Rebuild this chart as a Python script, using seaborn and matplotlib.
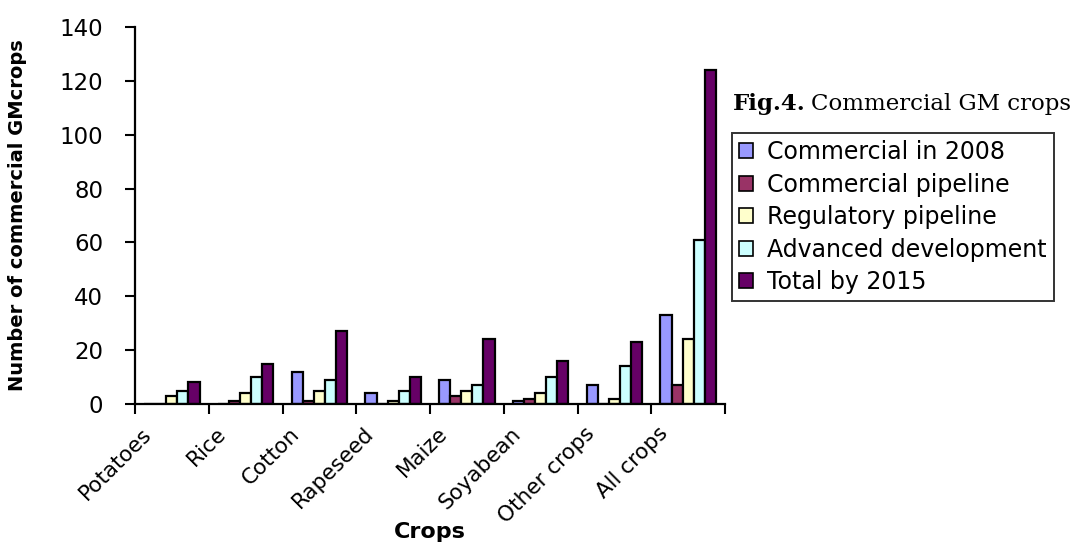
import matplotlib
matplotlib.use("Agg")
import matplotlib.pyplot as plt
import matplotlib.transforms as mtransforms
import numpy as np
import pandas as pd
import seaborn as sns

# Crops and number of commercial GM events per development stage
crops = ["Potatoes", "Rice", "Cotton", "Rapeseed", "Maize", "Soyabean",
         "Other crops", "All crops"]
series_names = ["Commercial in 2008", "Commercial pipeline",
                "Regulatory pipeline", "Advanced development", "Total by 2015"]
commercial_2008 = [0, 0, 12, 4, 9, 1, 7, 33]
commercial_pipeline = [0, 1, 1, 0, 3, 2, 0, 7]
regulatory_pipeline = [3, 4, 5, 1, 5, 4, 2, 24]
advanced_development = [5, 10, 9, 5, 7, 10, 14, 61]
total_2015 = [8, 15, 27, 10, 24, 16, 23, 124]
y_ticks = [0, 20, 40, 60, 80, 100, 120, 140]

colors = ["#9999FF", "#993366", "#FFFFCC", "#CCFFFF", "#660066"]

series_values = [commercial_2008, commercial_pipeline, regulatory_pipeline,
                 advanced_development, total_2015]
df = pd.DataFrame({
    "Crop": np.repeat(crops, len(series_names)).tolist(),
    "Stage": series_names * len(crops),
    "Count": [series_values[s][c] for c in range(len(crops))
              for s in range(len(series_names))],
})

sns.set_style("white")
plt.rcParams["font.family"] = ["DejaVu Sans"]
for key in ["text.color", "axes.labelcolor", "xtick.color", "ytick.color"]:
    plt.rcParams[key] = "black"

fig = plt.figure(figsize=(10.72, 5.45), dpi=100)
ax = fig.add_axes([135 / 1072, 1 - 404 / 545, 590 / 1072, 377 / 545])

sns.barplot(data=df, x="Crop", y="Count", hue="Stage", order=crops,
            hue_order=series_names, palette=colors, width=0.75,
            edgecolor="black", linewidth=1.6, saturation=1, ax=ax,
            legend=False)

ax.set_xlim(-0.5, len(crops) - 0.5)
ax.set_ylim(0, 140)
ax.set_yticks(y_ticks)
ax.set_yticklabels([str(v) for v in y_ticks], fontsize=16.5)
ax.tick_params(axis="y", length=7, width=1.5, pad=16, direction="out",
               left=True, color="black")

# category boundaries carry the tick marks, labels sit at category centres
ax.set_xticks(np.arange(-0.5, len(crops), 1.0), minor=True)
ax.set_xticks(range(len(crops)))
ax.tick_params(axis="x", which="minor", length=7, width=1.5, bottom=True,
               direction="out", color="black")
ax.tick_params(axis="x", which="major", length=0, pad=14)
ax.set_xticklabels(crops, rotation=45, ha="right", fontsize=15.5)
shift = mtransforms.ScaledTranslation(-0.16, 0, fig.dpi_scale_trans)
for lbl in ax.get_xticklabels():
    lbl.set_transform(lbl.get_transform() + shift)

for side in ["top", "right"]:
    ax.spines[side].set_visible(False)
for side in ["left", "bottom"]:
    ax.spines[side].set_color("black")
    ax.spines[side].set_linewidth(1.6)

ax.set_xlabel("Crops", fontsize=16, fontweight="bold")
ax.set_ylabel("Number of commercial GMcrops", fontsize=14,
              fontweight="bold")
ax.xaxis.set_label_coords(0.5, -0.312)
ax.yaxis.set_label_coords(-0.183, 0.5)

handles = [plt.Rectangle((0, 0), 1, 1, facecolor=c, edgecolor="black",
                         linewidth=1.2) for c in colors]
leg = fig.legend(handles, series_names, loc="upper left",
                 bbox_to_anchor=(732 / 1072, 1 - 133 / 545),
                 bbox_transform=fig.transFigure, frameon=True,
                 fancybox=False, edgecolor="black", fontsize=17,
                 handlelength=0.6, handleheight=0.6, handletextpad=0.6,
                 labelspacing=0.36, borderpad=0.3, borderaxespad=0)
leg.get_frame().set_linewidth(1.4)

# figure caption: bold figure number followed by the plain title
title_y = 1 - 110 / 545
bold_part = fig.text(733 / 1072, title_y, "Fig.4.", fontsize=16.5,
                     family="DejaVu Serif", fontweight="bold",
                     va="baseline", ha="left")
fig.canvas.draw()
bbox = bold_part.get_window_extent()
fig.text((bbox.x1 + 5) / fig.bbox.width, title_y, "Commercial GM crops",
         fontsize=16.5, family="DejaVu Serif", va="baseline", ha="left")

fig.savefig("out.png", dpi=100)
